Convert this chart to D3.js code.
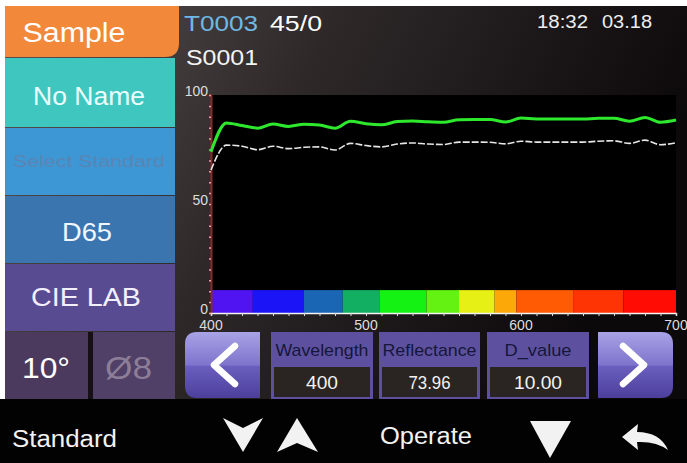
<!DOCTYPE html>
<html><head><meta charset="utf-8">
<script src="https://cdn.jsdelivr.net/npm/d3@7/dist/d3.min.js"></script>
<style>html,body{margin:0;padding:0;background:#fff;overflow:hidden}svg{display:block;font-family:"Liberation Sans",Arial,sans-serif}</style>
</head><body><svg id="c" width="687" height="463"></svg>
<script>
// ---- data ----
const wavelengths = [400,410,420,430,440,450,460,470,480,490,500,510,520,530,540,550,560,570,580,590,600,610,620,630,640,650,660,670,680,690,700];
const sampleValues = [74.0,87.2,86.0,84.8,86.7,85.6,86.6,86.2,84.8,88.0,86.8,86.3,87.8,88.1,87.7,87.5,88.7,88.8,88.8,87.6,89.4,89.0,89.0,89.0,89.0,89.3,89.3,88.0,89.7,87.5,88.5];
const standardValues = [65.6,77.0,76.5,74.9,76.5,75.4,76.0,76.2,74.8,77.8,76.8,76.2,77.5,78.0,77.5,77.3,78.4,78.4,78.3,77.6,78.8,78.4,78.4,78.4,78.4,78.8,79.0,77.8,79.3,77.2,78.1];
const spectrumStarts = [400,427,460,485,509,539,560,583,597,634,666];
const spectrumEnds   = [427,460,485,509,539,560,583,597,634,666,700];
const spectrumColors = ["#5014f2","#1a14f6","#1a66b4","#12ae62","#14f214","#64f212","#e6f014","#fba808","#ff5a04","#ff3404","#ff0c04"];
const yTickLabels = [0,50,100];
const xTickLabels = [400,500,600,700];
const menuItems = ["Sample","No Name","Select Standard","D65","CIE LAB"];
const readoutLabels = ["Wavelength","Reflectance","D_value"];
const readoutValues = ["400","73.96","10.00"];

const svg = d3.select("#c");
const defs = svg.append("defs");
const bg = defs.append("linearGradient").attr("id","bg").attr("x1","0").attr("x2","1").attr("y1","0").attr("y2","0.3");
bg.append("stop").attr("offset","0").attr("stop-color","#5c5354");
bg.append("stop").attr("offset","0.45").attr("stop-color","#2e2829");
bg.append("stop").attr("offset","1").attr("stop-color","#0c090b");
const btn = defs.append("linearGradient").attr("id","btn").attr("x1","0").attr("x2","0").attr("y1","0").attr("y2","1");
btn.append("stop").attr("offset","0").attr("stop-color","#a9a3e6");
btn.append("stop").attr("offset","0.5").attr("stop-color","#7e74cc");
btn.append("stop").attr("offset","0.52").attr("stop-color","#6a5fbe");
btn.append("stop").attr("offset","1").attr("stop-color","#4c3f9c");

function txt(xp, yp, s, fs, col, len, anchor){
  const t = svg.append("text").attr("x",xp).attr("y",yp).attr("font-size",fs).attr("fill",col)
    .attr("text-anchor",anchor||"start").text(s);
  if(len){ t.attr("textLength",len).attr("lengthAdjust","spacingAndGlyphs"); }
  return t;
}

// page background
svg.append("rect").attr("x",0).attr("y",0).attr("width",687).attr("height",463).attr("fill","#fff");
svg.append("rect").attr("x",5).attr("y",6).attr("width",682).attr("height",394).attr("fill","url(#bg)");
svg.append("rect").attr("x",0).attr("y",399).attr("width",687).attr("height",64).attr("fill","#020202");

// left menu
const menuBoxes = [
  {y:6,h:51,fill:"#f2883a",w:174,col:"#fff",fs:27,len:103,base:42,cx:74},
  {y:58,h:69,fill:"#3fc6bf",w:170,col:"#eafffd",fs:25,len:112,base:105,cx:89},
  {y:128,h:67,fill:"#3d97d5",w:170,col:"#5a85b3",fs:17,len:152,base:167,cx:89},
  {y:196,h:67,fill:"#3a75b0",w:170,col:"#f2f6ff",fs:25,len:50,base:241,cx:87},
  {y:264,h:67,fill:"#594b91",w:170,col:"#f2f0ff",fs:25,len:110,base:306,cx:86}
];
menuBoxes.forEach((b,i)=>{
  if(i===0){
    const r=14,x0=5,x1=5+b.w,y0=b.y,y1=b.y+b.h;
    svg.append("path").attr("d",`M${x0},${y0}H${x1}V${y1-r}Q${x1},${y1} ${x1-r},${y1}H${x0}Z`).attr("fill",b.fill);
  } else {
    svg.append("rect").attr("x",5).attr("y",b.y).attr("width",b.w).attr("height",b.h).attr("fill",b.fill);
  }
  txt(b.cx - b.len/2, b.base, menuItems[i], b.fs, b.col, b.len);
});
svg.append("rect").attr("x",5).attr("y",332).attr("width",83).attr("height",67).attr("fill","#4b3a5e");
svg.append("rect").attr("x",88).attr("y",332).attr("width",5).attr("height",67).attr("fill","#161016");
svg.append("rect").attr("x",93).attr("y",332).attr("width",82).attr("height",67).attr("fill","#503f66");
txt(22, 378, "10°", 29, "#fff", 48);
txt(105, 379, "Ø8", 32, "#8c7e98", 47);

// header
txt(184, 31, "T0003", 22, "#6fb8e2", 74);
txt(270, 31, "45/0", 22, "#fff", 52);
txt(186, 65, "S0001", 22, "#f4f4f4", 72);
txt(537, 28, "18:32", 18, "#eee", 51);
txt(602, 28, "03.18", 18, "#eee", 50);

// chart
const x = d3.scaleLinear().domain([400,700]).range([211,676]);
const y = d3.scaleLinear().domain([0,100]).range([313,95]);
svg.append("rect").attr("x",x(400)).attr("y",y(100)).attr("width",x(700)-x(400)).attr("height",y(0)-y(100)).attr("fill","#000");

// spectrum bar
svg.append("g").selectAll("rect").data(spectrumStarts).join("rect")
  .attr("x",(d)=>x(d)).attr("width",(d,i)=>x(spectrumEnds[i])-x(d))
  .attr("y",y(10.5)).attr("height",y(0)-y(10.5)).attr("fill",(d,i)=>spectrumColors[i]);

// y axis
const yAx = svg.append("g").attr("transform",`translate(${x(400)},0)`)
  .call(d3.axisLeft(y).tickValues(d3.range(0,101,5)).tickSize(2).tickFormat(""));
yAx.select(".domain").attr("stroke","#8b2a2a").attr("stroke-width",2);
yAx.selectAll(".tick line").attr("stroke","#e8a0a0").attr("stroke-width",1.5);
svg.append("g").selectAll("text").data(yTickLabels).join("text")
  .attr("x",x(400)-3).attr("y",d=>y(d)).attr("dy","0.1em").attr("text-anchor","end")
  .attr("font-size",14).attr("fill","#ddd").text(d=>d);

// x axis
const xAx = svg.append("g").attr("transform",`translate(0,${y(0)})`)
  .call(d3.axisBottom(x).tickValues(d3.range(400,701,10)).tickSize(3).tickFormat(""));
xAx.select(".domain").attr("stroke","#f4f4f4").attr("stroke-width",1.5);
xAx.selectAll(".tick line").attr("stroke","#ddd");
svg.append("g").selectAll("text").data(xTickLabels).join("text")
  .attr("x",d=>x(d)).attr("y",y(0)+17).attr("text-anchor","middle")
  .attr("font-size",14).attr("fill","#ddd").text(d=>d);

// curves
const line = d3.line().x((d,i)=>x(wavelengths[i])).y(d=>y(d)).curve(d3.curveMonotoneX);
svg.append("path").attr("d",line(standardValues)).attr("fill","none").attr("stroke","#e6e6e6")
  .attr("stroke-width",1.6).attr("stroke-dasharray","7,2");
svg.append("path").attr("d",line(sampleValues)).attr("fill","none").attr("stroke","#2ee82e").attr("stroke-width",3);

// readout row
svg.append("path").attr("d","M197,332H260V398H197Q185,398 185,386V344Q185,332 197,332Z").attr("fill","url(#btn)");
svg.append("path").attr("d","M598,332H661Q673,332 673,344V386Q673,398 661,398H598Z").attr("fill","url(#btn)");
svg.append("path").attr("d","M235,346L214,365L235,384").attr("fill","none").attr("stroke","#fff").attr("stroke-width",6.5).attr("stroke-linecap","round").attr("stroke-linejoin","round");
svg.append("path").attr("d","M623,346L644,365L623,384").attr("fill","none").attr("stroke","#fff").attr("stroke-width",6.5).attr("stroke-linecap","round").attr("stroke-linejoin","round");
const panelX = [271,379,487];
const panelW = [102,101,102];
const labelLen = [93,94,67];
const valueLen = [32,42,48];
readoutLabels.forEach((lab,i)=>{
  svg.append("rect").attr("x",panelX[i]).attr("y",332).attr("width",panelW[i]).attr("height",67).attr("fill","#5d519f");
  svg.append("rect").attr("x",panelX[i]+3).attr("y",367).attr("width",panelW[i]-6).attr("height",30).attr("fill","#2a2522");
  const cx = panelX[i]+panelW[i]/2;
  txt(cx-labelLen[i]/2, 356, lab, 17, "#16163a", labelLen[i]);
  txt(cx-valueLen[i]/2, 389, readoutValues[i], 18, "#f2f2f2", valueLen[i]);
});

// bottom bar
txt(12, 447, "Standard", 23, "#f2f2f2", 105);
txt(380, 444, "Operate", 23, "#f2f2f2", 92);
svg.append("path").attr("d","M223,418L243,428L263,418L243,452Z").attr("fill","#f2f2f2");
svg.append("path").attr("d","M297,418L318,452L297,443L277,452Z").attr("fill","#f2f2f2");
svg.append("path").attr("d","M530,421L571,421L550,458Z").attr("fill","#f2f2f2");
svg.append("path").attr("d","M622,437L638,424L637,432Q660,432 668,450Q656,441 637,442L638,450Z").attr("fill","#f2f2f2");
</script></body></html>
